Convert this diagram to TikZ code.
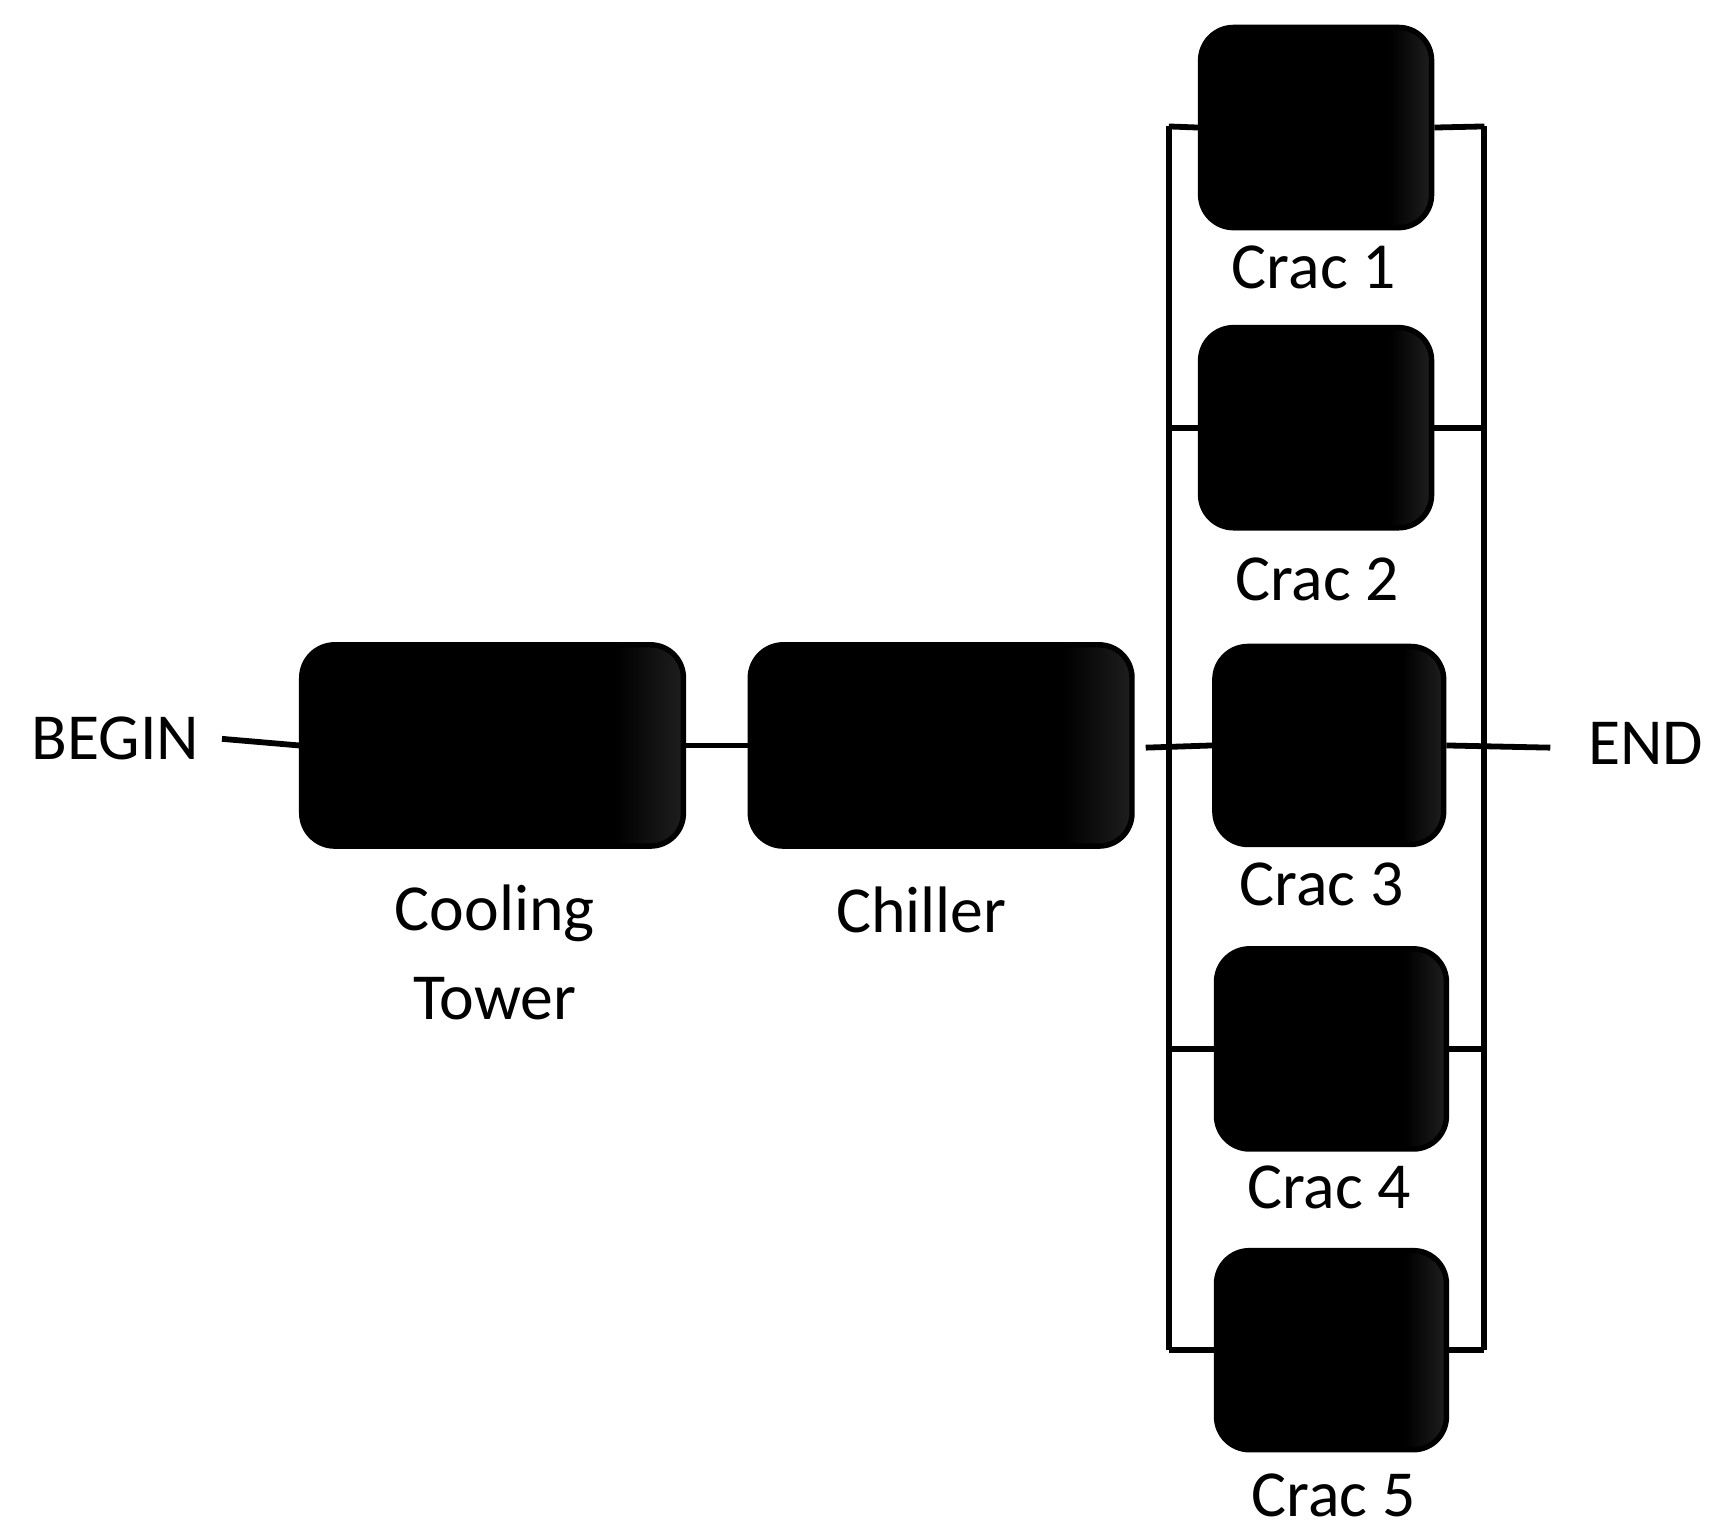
\documentclass[tikz,border=0pt]{standalone}
\usepackage{fontspec}
\setmainfont{Carlito}
\pgfdeclarehorizontalshading{boxshade}{100bp}{color(0bp)=(black); color(66bp)=(black); color(100bp)=(black!55)}
\begin{document}
\begin{tikzpicture}[x=0.01cm,y=-0.01cm,
  box/.style={draw=black, line width=1.4pt, rounded corners=0.3cm, shading=boxshade, inner sep=0pt},
  lbl/.style={font=\fontsize{17}{21}\selectfont, align=center, inner sep=0pt},
  wire/.style={line width=1.5pt}]
\useasboundingbox (0,0) rectangle (1568,1400);
% main line
\node[lbl] (begin) at (105,672) {BEGIN};
\node[box, minimum width=3.47cm, minimum height=1.83cm] (tower) at (448,678) {};
\node[box, minimum width=3.47cm, minimum height=1.83cm] (chiller) at (856,678) {};
\node[lbl] (towerl) at (450,866) {Cooling\\[2pt]Tower};
\node[lbl] (chillerl) at (838,828) {Chiller};
\node[lbl] (end) at (1497,676) {END};
% cracs
\node[box, minimum width=2.1cm, minimum height=1.82cm] (c1) at (1197,116) {};
\node[box, minimum width=2.1cm, minimum height=1.82cm] (c2) at (1197,389) {};
\node[box, minimum width=2.08cm, minimum height=1.8cm] (c3) at (1209,678) {};
\node[box, minimum width=2.09cm, minimum height=1.82cm] (c4) at (1211,954) {};
\node[box, minimum width=2.09cm, minimum height=1.81cm] (c5) at (1211,1228) {};
\node[lbl] (c1l) at (1195,243) {Crac 1};
\node[lbl] (c2l) at (1198,527) {Crac 2};
\node[lbl] (c3l) at (1202,804) {Crac 3};
\node[lbl] (c4l) at (1209,1080) {Crac 4};
\node[lbl] (c5l) at (1213,1360) {Crac 5};
% bus coordinates
\coordinate (lt) at (1063,115);
\coordinate (lb) at (1063,1228);
\coordinate (rt) at (1350,115);
\coordinate (rb) at (1350,1228);
\coordinate (endl) at (1410,680);
% wires
\draw[wire] (begin.east) ++(20,0) coordinate (b0) (b0) -- (tower.west);
\draw[wire] (tower.east) -- (chiller.east -| chiller.west);
\draw[wire] (chiller.east) ++(10,2) -- (c3.west);
\draw[wire] (lt) -- (lb);
\draw[wire] (rt) -- (rb);
\draw[wire] (lt) -- (c1.west);
\draw[wire] (c1.east) -- (rt);
\draw[wire] (c2.west -| lt) -- (c2.west);
\draw[wire] (c2.east) -- (c2.east -| rt);
\draw[wire] (c3.east) -- (endl);
\draw[wire] (c4.west -| lt) -- (c4.west);
\draw[wire] (c4.east) -- (c4.east -| rt);
\draw[wire] (lb) -- (c5.west);
\draw[wire] (c5.east) -- (rb);
\end{tikzpicture}
\end{document}
